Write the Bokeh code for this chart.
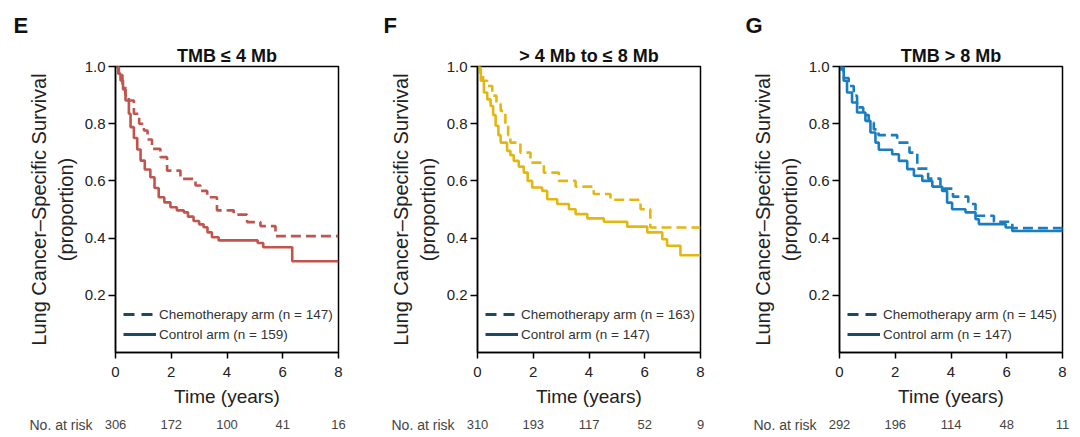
from bokeh.plotting import figure
from bokeh.models import FixedTicker, Legend, LegendItem, Range1d, PrintfTickFormatter, Title
from bokeh.core.properties import value
from bokeh.layouts import row, column
from bokeh.embed import file_html
from bokeh.resources import INLINE

# ---- data ----
time_ticks = [0, 2, 4, 6, 8]
surv_ticks = [0.2, 0.4, 0.6, 0.8, 1.0]

letters = ["E", "F", "G"]
titles = ["TMB \u2264 4 Mb", "> 4 Mb to \u2264 8 Mb", "TMB > 8 Mb"]
n_chemo = [147, 163, 145]
n_control = [159, 147, 147]
at_risk_E = [306, 172, 100, 41, 16]
at_risk_F = [310, 193, 117, 52, 9]
at_risk_G = [292, 196, 114, 48, 11]

t_E_chemo = [0, 0.12, 0.25, 0.35, 0.48, 0.66, 0.85, 1.02, 1.15, 1.31, 1.61, 1.85, 2.33, 2.87, 3.05, 3.29, 3.64, 4.24, 4.72, 5.2, 5.74, 8]
s_E_chemo = [1.0, 0.97, 0.93, 0.90, 0.881, 0.835, 0.80, 0.776, 0.745, 0.712, 0.683, 0.636, 0.607, 0.584, 0.565, 0.543, 0.497, 0.482, 0.456, 0.442, 0.407, 0.407]
t_E_ctrl = [0, 0.1, 0.18, 0.27, 0.36, 0.48, 0.54, 0.66, 0.78, 0.9, 1.05, 1.25, 1.4, 1.55, 1.75, 1.97, 2.2, 2.45, 2.6, 2.8, 3.0, 3.16, 3.3, 3.46, 3.7, 5.1, 5.3, 6.34, 8]
s_E_ctrl = [1.0, 0.975, 0.951, 0.92, 0.881, 0.835, 0.788, 0.75, 0.71, 0.671, 0.64, 0.613, 0.575, 0.543, 0.525, 0.508, 0.497, 0.49, 0.475, 0.46, 0.448, 0.438, 0.42, 0.403, 0.392, 0.383, 0.368, 0.319, 0.319]

t_F_chemo = [0, 0.1, 0.2, 0.35, 0.53, 0.68, 0.83, 1.0, 1.1, 1.18, 1.54, 1.9, 2.38, 2.92, 3.52, 4.17, 4.77, 5.85, 6.2, 8]
s_F_chemo = [1.0, 0.97, 0.95, 0.932, 0.898, 0.87, 0.845, 0.793, 0.76, 0.734, 0.699, 0.664, 0.629, 0.60, 0.58, 0.554, 0.534, 0.501, 0.437, 0.437]
t_F_ctrl = [0, 0.05, 0.12, 0.23, 0.35, 0.47, 0.56, 0.65, 0.75, 0.83, 1.06, 1.18, 1.3, 1.48, 1.66, 1.8, 1.96, 2.32, 2.5, 2.86, 3.28, 3.52, 3.94, 4.53, 5.37, 6.09, 6.63, 6.8, 7.28, 8]
s_F_ctrl = [1.0, 0.99, 0.95, 0.909, 0.885, 0.862, 0.83, 0.793, 0.76, 0.734, 0.705, 0.69, 0.67, 0.65, 0.629, 0.60, 0.577, 0.565, 0.536, 0.519, 0.501, 0.484, 0.469, 0.457, 0.44, 0.42, 0.396, 0.373, 0.34, 0.34]

t_G_chemo = [0, 0.15, 0.33, 0.51, 0.63, 0.85, 1.05, 1.23, 1.4, 2.07, 2.51, 2.79, 3.18, 3.62, 4.07, 4.62, 4.88, 5.54, 6.2, 8]
s_G_chemo = [1.0, 0.96, 0.932, 0.898, 0.857, 0.83, 0.804, 0.78, 0.76, 0.734, 0.699, 0.643, 0.608, 0.573, 0.545, 0.519, 0.478, 0.457, 0.435, 0.433]
t_G_ctrl = [0, 0.04, 0.15, 0.27, 0.45, 0.63, 0.93, 1.11, 1.29, 1.41, 1.89, 2.13, 2.43, 2.67, 2.97, 3.33, 3.68, 3.86, 4.04, 4.52, 4.88, 5.0, 5.96, 6.2, 8]
s_G_ctrl = [1.0, 0.99, 0.95, 0.909, 0.874, 0.839, 0.81, 0.769, 0.734, 0.709, 0.693, 0.67, 0.641, 0.618, 0.60, 0.58, 0.565, 0.524, 0.501, 0.49, 0.466, 0.449, 0.437, 0.425, 0.435]

colors = ["#c0554d", "#e4b710", "#1a7dc2"]
legend_color = "#1c4966"

FONT = "Liberation Sans"
NAN = float("nan")
FRAME_W = 223          # plot frame width in px (layout)
X_MAX = 8


def panel(letter, title, color, tc, sc, tk, sk, nc, nk, width, border_left, border_right):
    p = figure(width=width, height=416, x_range=Range1d(0, X_MAX), y_range=Range1d(0, 1),
               output_backend="svg", toolbar_location=None, title=None,
               min_border_left=border_left, min_border_right=border_right,
               min_border_top=66, min_border_bottom=64)
    p.grid.visible = False
    p.outline_line_color = "black"
    p.outline_line_width = 1.5

    p.add_layout(Title(text=title, align="center", text_font=FONT, text_font_style="bold",
                       text_font_size="18px", text_color="#111", standoff=2), "above")
    p.add_layout(Title(text=letter, align="left", offset=13 - border_left, text_font=FONT,
                       text_font_style="bold", text_font_size="22px", text_color="#111",
                       standoff=9), "above")

    xa = p.xaxis[0]
    xa.ticker = FixedTicker(ticks=time_ticks)
    xa.minor_tick_line_color = None
    xa.major_tick_out = 6
    xa.major_tick_in = 0
    xa.axis_line_width = 1.5
    xa.major_tick_line_width = 1.5
    xa.major_label_text_font = FONT
    xa.major_label_text_font_size = "15px"
    xa.major_label_text_color = "#222"
    xa.major_label_standoff = 8
    xa.axis_label = "Time (years)"
    xa.axis_label_text_font = FONT
    xa.axis_label_text_font_size = "19px"
    xa.axis_label_text_font_style = "normal"
    xa.axis_label_text_color = "#222"
    xa.axis_label_standoff = 6

    ya = p.yaxis[0]
    ya.ticker = FixedTicker(ticks=surv_ticks)
    ya.formatter = PrintfTickFormatter(format="%.1f")
    ya.minor_tick_line_color = None
    ya.major_tick_out = 7
    ya.major_tick_in = 0
    ya.axis_line_width = 1.5
    ya.major_tick_line_width = 1.5
    ya.major_label_text_font = FONT
    ya.major_label_text_font_size = "15px"
    ya.major_label_text_color = "#222"
    ya.major_label_standoff = 3
    ya.axis_label = "Lung Cancer\u2013Specific Survival\n(proportion)"
    ya.axis_label_text_font = FONT
    ya.axis_label_text_font_size = "20px"
    ya.axis_label_text_font_style = "normal"
    ya.axis_label_text_color = "#222"
    ya.axis_label_standoff = 5

    p.step(tk, sk, mode="after", line_color=color, line_width=2.6)
    p.step(tc, sc, mode="after", line_color=color, line_width=2.6, line_dash="10 5")

    r_dash = p.line(x=[NAN], y=[NAN], line_color=legend_color, line_width=3, line_dash="11 7")
    r_solid = p.line(x=[NAN], y=[NAN], line_color=legend_color, line_width=3)
    legend = Legend(items=[LegendItem(label=f"Chemotherapy arm (n = {nc})", renderers=[r_dash]),
                           LegendItem(label=f"Control arm (n = {nk})", renderers=[r_solid])],
                    location="bottom_left", margin=0, padding=8, spacing=0,
                    glyph_width=33, glyph_height=20, label_height=20, label_standoff=3,
                    label_text_font=FONT, label_text_font_size="13.5px", label_text_color="#333",
                    background_fill_alpha=0, border_line_alpha=0)
    p.add_layout(legend, "center")
    return p


def risk_strip(risk, width, border_left):
    # a thin strip whose x scale lines up with the panel above (same px per year)
    per_px = X_MAX / FRAME_W
    s = figure(width=width, height=18,
               x_range=Range1d(-border_left * per_px, (width - border_left) * per_px),
               y_range=Range1d(0, 1), output_backend="svg", toolbar_location=None,
               title=None, min_border=0, x_axis_location=None, y_axis_location=None)
    s.grid.visible = False
    s.outline_line_color = None
    s.text(x=time_ticks, y=[0.55] * len(time_ticks), text=[str(v) for v in risk],
           text_align="center", text_baseline="middle", text_font=value(FONT),
           text_font_size="13px", text_color="#444")
    s.text(x=[-23 * per_px], y=[0.55], text=["No. at risk"], text_align="right",
           text_baseline="middle", text_font=value(FONT), text_font_size="14px",
           text_color="#444")
    return s


pE = panel(letters[0], titles[0], colors[0], t_E_chemo, s_E_chemo, t_E_ctrl, s_E_ctrl,
           n_chemo[0], n_control[0], 370, 115, 32)
pF = panel(letters[1], titles[1], colors[1], t_F_chemo, s_F_chemo, t_F_ctrl, s_F_ctrl,
           n_chemo[1], n_control[1], 362, 107, 32)
pG = panel(letters[2], titles[2], colors[2], t_G_chemo, s_G_chemo, t_G_ctrl, s_G_ctrl,
           n_chemo[2], n_control[2], 340, 107, 10)

rE = risk_strip(at_risk_E, 370, 115)
rF = risk_strip(at_risk_F, 362, 107)
rG = risk_strip(at_risk_G, 340, 107)

layout = column(row(pE, pF, pG), row(rE, rF, rG))
open("out.html", "w").write(file_html(layout, INLINE))
